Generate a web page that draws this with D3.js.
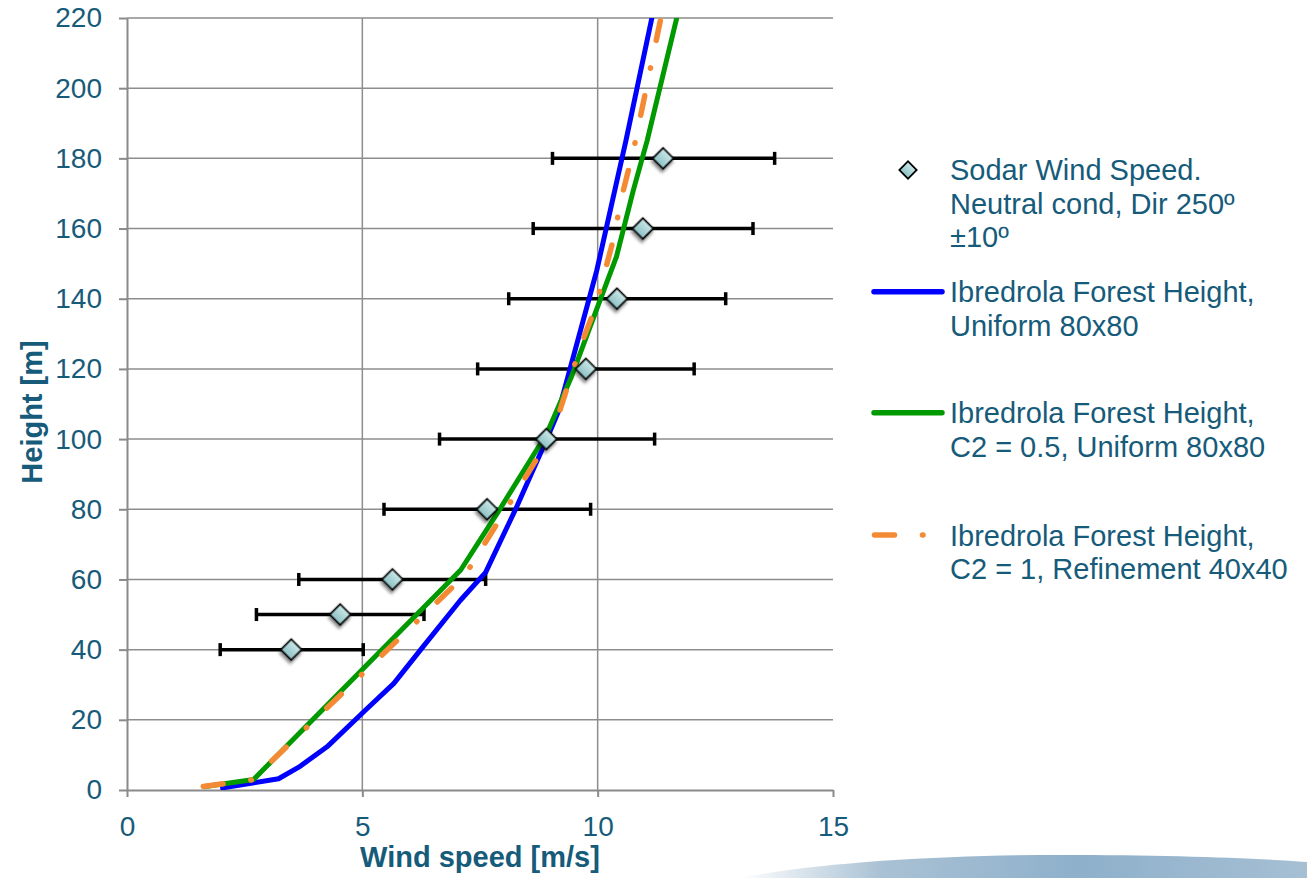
<!DOCTYPE html>
<html>
<head>
<meta charset="utf-8">
<script src="https://cdn.jsdelivr.net/npm/d3@7"></script>
<style>
  html, body { margin: 0; padding: 0; background: #ffffff; }
  svg { display: block; }
  text { font-family: "Liberation Sans", Arial, sans-serif; }
</style>
</head>
<body>
<svg id="chart" width="1307" height="878"></svg>
<script>
// ---- Sodar measurements (neutral conditions, direction 250º ±10º) ----
const sodarHeight = [40, 50, 60, 80, 100, 120, 140, 160, 180];
const sodarSpeed  = [3.49, 4.53, 5.64, 7.65, 8.91, 9.75, 10.41, 10.96, 11.39];
const sodarLow    = [1.98, 2.75, 3.65, 5.46, 6.64, 7.45, 8.11, 8.63, 9.04];
const sodarHigh   = [5.02, 6.31, 7.62, 9.85, 11.21, 12.05, 12.72, 13.30, 13.76];

// ---- Simulated profiles ----
// Forest height, uniform 80x80
const uniformHeight = [0.5, 3.2, 6.5, 12.3, 22.3, 30.4, 41, 54, 62, 80.7, 100, 108, 148, 185, 225];
const uniformSpeed  = [1.98, 3.22, 3.65, 4.25, 5.03, 5.67, 6.30, 7.08, 7.62, 8.28, 8.92, 9.17, 9.98, 10.60, 11.23];

// Forest height, C2 = 0.5, uniform 80x80
const c2HalfHeight = [0.9, 3.0, 62.7, 80, 101.6, 118, 136, 152, 171, 185, 225];
const c2HalfSpeed  = [1.63, 2.69, 7.09, 7.92, 8.92, 9.45, 9.95, 10.40, 10.76, 11.05, 11.77];

// Forest height, C2 = 1, refinement 40x40
const c2OneHeight = [1.0, 2.9, 61.2, 79.5, 97.3, 108.3, 127.3, 137.5, 156.7, 169, 182.3, 225];
const c2OneSpeed  = [1.62, 2.66, 7.18, 8.03, 8.84, 9.2, 9.66, 9.95, 10.33, 10.51, 10.76, 11.42];

// ---- Axes ----
const xTicks = [0, 5, 10, 15];
const yTicks = [0, 20, 40, 60, 80, 100, 120, 140, 160, 180, 200, 220];
const xTitle = "Wind speed [m/s]";
const yTitle = "Height [m]";

// ---- Legend ----
const legendSodar = ["Sodar Wind Speed.", "Neutral cond, Dir 250º", "±10º"];
const legendUniform = ["Ibredrola Forest Height,", "Uniform 80x80"];
const legendC2Half = ["Ibredrola Forest Height,", "C2 = 0.5, Uniform 80x80"];
const legendC2One = ["Ibredrola Forest Height,", "C2 = 1, Refinement 40x40"];

const TEXT = "#165b7a";
const GRID = "#8d8d8d";
const BLUE = "#0000ff";
const GREEN = "#009900";
const ORANGE = "#f58a35";
const ORANGE_DASH = "20 28 0.5 28";

const svg = d3.select("#chart");
const defs = svg.append("defs");

const x = d3.scaleLinear().domain([0, 15]).range([127, 833]);
const y = d3.scaleLinear().domain([0, 220]).range([790, 18]);

defs.append("clipPath").attr("id", "plotClip")
  .append("rect").attr("x", 127).attr("y", 18).attr("width", 706).attr("height", 772);

const mg = defs.append("linearGradient").attr("id", "markerFill")
  .attr("x1", 0).attr("y1", 0).attr("x2", 0).attr("y2", 1);
mg.append("stop").attr("offset", "0%").attr("stop-color", "#cbe7e8");
mg.append("stop").attr("offset", "100%").attr("stop-color", "#8cc1c5");

const sh = defs.append("filter").attr("id", "markerShadow")
  .attr("x", "-50%").attr("y", "-50%").attr("width", "200%").attr("height", "200%");
sh.append("feDropShadow").attr("dx", 1.5).attr("dy", 3).attr("stdDeviation", 1.6)
  .attr("flood-color", "#000").attr("flood-opacity", 0.45);

// Decorative horizon swoosh at the bottom right
const sg = defs.append("linearGradient").attr("id", "swoosh")
  .attr("x1", 0).attr("y1", 0).attr("x2", 1).attr("y2", 0);
sg.append("stop").attr("offset", "0%").attr("stop-color", "#ffffff");
sg.append("stop").attr("offset", "25%").attr("stop-color", "#a9c1d4");
sg.append("stop").attr("offset", "60%").attr("stop-color", "#8eb0cb");
sg.append("stop").attr("offset", "100%").attr("stop-color", "#a6bfd3");
svg.append("path")
  .attr("d", "M740,878 C820,862 950,855 1060,855 C1170,855 1250,858 1307,862 L1307,878 Z")
  .attr("fill", "url(#swoosh)");

// ---- Gridlines ----
const grid = svg.append("g");
grid.selectAll("line.h").data(yTicks.filter(d => d > 0)).join("line")
  .attr("x1", x(0)).attr("x2", x(15))
  .attr("y1", d => y(d)).attr("y2", d => y(d))
  .attr("stroke", GRID).attr("stroke-width", 1.5);
grid.selectAll("line.v").data(xTicks.filter(d => d > 0 && d < 15)).join("line")
  .attr("x1", d => x(d)).attr("x2", d => x(d))
  .attr("y1", y(0)).attr("y2", y(220))
  .attr("stroke", GRID).attr("stroke-width", 1.5);

// ---- Axes ----
const yAxis = svg.append("g").attr("transform", `translate(${x(0)},0)`)
  .call(d3.axisLeft(y).tickValues(yTicks).tickSize(8).tickSizeOuter(0).tickPadding(17));
const xAxis = svg.append("g").attr("transform", `translate(0,${y(0)})`)
  .call(d3.axisBottom(x).tickValues(xTicks).tickSize(7).tickSizeOuter(0).tickPadding(19));
[xAxis, yAxis].forEach(ax => {
  ax.select(".domain").attr("stroke", "#8a8a8a").attr("stroke-width", 2);
  ax.selectAll(".tick line").attr("stroke", "#8a8a8a").attr("stroke-width", 2);
  ax.selectAll(".tick text").attr("fill", TEXT).attr("font-size", 28)
    .attr("font-family", "'Liberation Sans', Arial, sans-serif");
});

svg.append("text").attr("x", 480).attr("y", 867).attr("text-anchor", "middle")
  .attr("font-size", 29).attr("font-weight", "bold").attr("fill", TEXT).text(xTitle);
svg.append("text").attr("transform", "translate(42,412) rotate(-90)").attr("text-anchor", "middle")
  .attr("font-size", 29).attr("font-weight", "bold").attr("fill", TEXT).text(yTitle);

// ---- Error bars ----
const sodar = sodarHeight.map((h, i) => ({ h, v: sodarSpeed[i], lo: sodarLow[i], hi: sodarHigh[i] }));
const eb = svg.append("g");
eb.selectAll("line.bar").data(sodar).join("line")
  .attr("x1", d => x(d.lo)).attr("x2", d => x(d.hi))
  .attr("y1", d => y(d.h)).attr("y2", d => y(d.h))
  .attr("stroke", "#000").attr("stroke-width", 3.5);
eb.selectAll("line.capL").data(sodar).join("line")
  .attr("x1", d => x(d.lo)).attr("x2", d => x(d.lo))
  .attr("y1", d => y(d.h) - 6.5).attr("y2", d => y(d.h) + 6.5)
  .attr("stroke", "#000").attr("stroke-width", 3.5);
eb.selectAll("line.capR").data(sodar).join("line")
  .attr("x1", d => x(d.hi)).attr("x2", d => x(d.hi))
  .attr("y1", d => y(d.h) - 6.5).attr("y2", d => y(d.h) + 6.5)
  .attr("stroke", "#000").attr("stroke-width", 3.5);

// ---- Profiles ----
const line = d3.line().x(d => x(d[0])).y(d => y(d[1]));
const plot = svg.append("g").attr("clip-path", "url(#plotClip)");
const zip = (s, h) => s.map((v, i) => [v, h[i]]);

plot.append("path").datum(zip(uniformSpeed, uniformHeight))
  .attr("d", line).attr("fill", "none").attr("stroke", BLUE)
  .attr("stroke-width", 5).attr("stroke-linejoin", "round");
plot.append("path").datum(zip(c2HalfSpeed, c2HalfHeight))
  .attr("d", line).attr("fill", "none").attr("stroke", GREEN)
  .attr("stroke-width", 5).attr("stroke-linejoin", "round");
plot.append("path").datum(zip(c2OneSpeed, c2OneHeight))
  .attr("d", line).attr("fill", "none").attr("stroke", ORANGE)
  .attr("stroke-width", 5.5).attr("stroke-linecap", "round").attr("stroke-linejoin", "round")
  .attr("stroke-dasharray", ORANGE_DASH);

// ---- Sodar markers ----
const diamond = d3.symbol(d3.symbolSquare, 215);
svg.append("g").selectAll("path").data(sodar).join("path")
  .attr("d", diamond)
  .attr("transform", d => `translate(${x(d.v)},${y(d.h)}) rotate(45)`)
  .attr("fill", "url(#markerFill)").attr("stroke", "#000").attr("stroke-width", 1.8)
  .attr("filter", "url(#markerShadow)");

// ---- Legend ----
const lg = svg.append("g");
const textX = 950;
function legendText(lines, baseline) {
  lg.append("text").attr("x", textX).attr("y", baseline)
    .attr("font-size", 29).attr("fill", TEXT)
    .selectAll("tspan").data(lines).join("tspan")
    .attr("x", textX).attr("dy", (d, i) => i === 0 ? 0 : 33.6).text(d => d);
}
lg.append("path").attr("d", d3.symbol(d3.symbolSquare, 150))
  .attr("transform", "translate(908,170) rotate(45)")
  .attr("fill", "url(#markerFill)").attr("stroke", "#000").attr("stroke-width", 1.8);
legendText(legendSodar, 180);

lg.append("line").attr("x1", 874).attr("x2", 942).attr("y1", 291.7).attr("y2", 291.7)
  .attr("stroke", BLUE).attr("stroke-width", 5.5).attr("stroke-linecap", "round");
legendText(legendUniform, 302);

lg.append("line").attr("x1", 874).attr("x2", 942).attr("y1", 412.7).attr("y2", 412.7)
  .attr("stroke", GREEN).attr("stroke-width", 5.5).attr("stroke-linecap", "round");
legendText(legendC2Half, 423);

lg.append("line").attr("x1", 874.5).attr("x2", 944).attr("y1", 535).attr("y2", 535)
  .attr("stroke", ORANGE).attr("stroke-width", 5.5).attr("stroke-linecap", "round")
  .attr("stroke-dasharray", ORANGE_DASH);
legendText(legendC2One, 545.5);
</script>
</body>
</html>
